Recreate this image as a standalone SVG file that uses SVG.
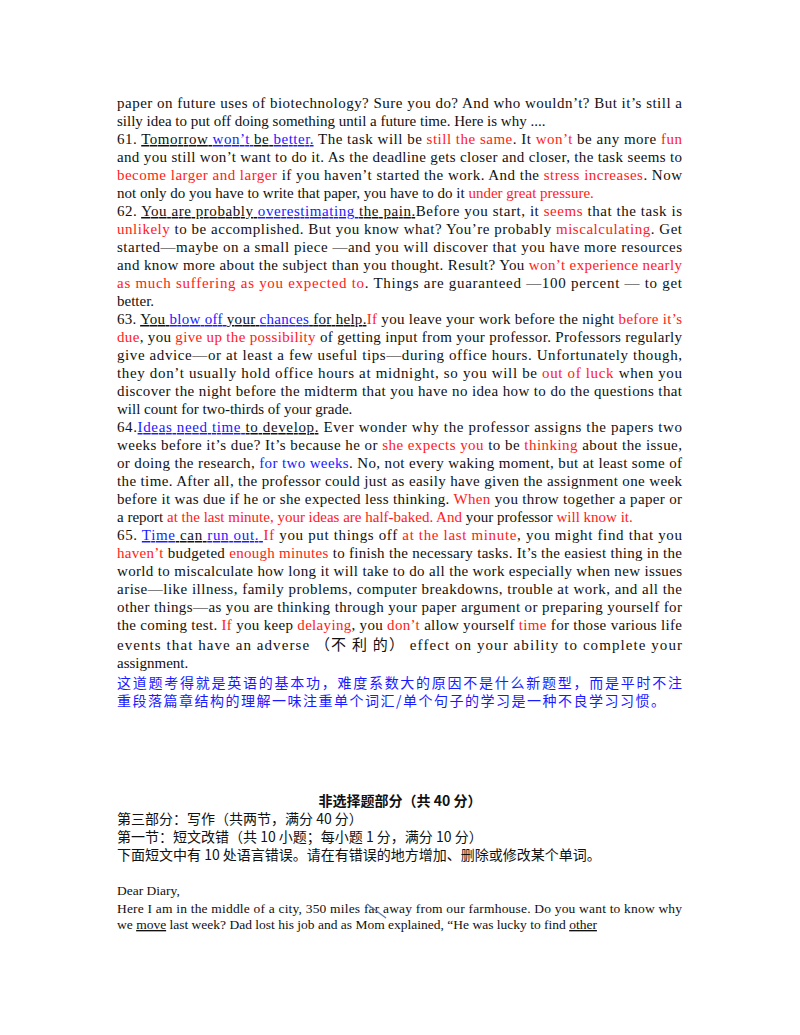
<svg xmlns="http://www.w3.org/2000/svg" width="800" height="1035" viewBox="0 0 800 1035">
<style>
text{font-family:"Liberation Serif","Noto Sans CJK SC",serif;font-size:15px;fill:#111}
.r{fill:#ff1a1a}.b{fill:#1a1aff}.u{text-decoration:underline}
.cn{font-family:"Noto Sans CJK SC",sans-serif;font-size:14px}
.cb{fill:#1a1aff;font-family:"Noto Sans CJK SC",sans-serif;font-size:14px}
</style>
<rect width="800" height="1035" fill="#fff"/>
<g id="body">
<text x="117" y="108" textLength="565" lengthAdjust="spacing">paper on future uses of biotechnology? Sure you do? And who wouldn’t? But it’s still a</text>
<text x="117" y="126">silly idea to put off doing something until a future time. Here is why ....</text>
<text x="117" y="144" textLength="565" lengthAdjust="spacing">61. <tspan class="u">Tomorrow </tspan><tspan class="b u">won’t </tspan><tspan class="u">be </tspan><tspan class="b u">better.</tspan> The task will be <tspan class="r">still the same</tspan>. It <tspan class="r">won’t</tspan> be any more <tspan class="r">fun</tspan></text>
<text x="117" y="162" textLength="565" lengthAdjust="spacing">and you still won’t want to do it. As the deadline gets closer and closer, the task seems to</text>
<text x="117" y="180" textLength="565" lengthAdjust="spacing"><tspan class="r">become larger and larger</tspan> if you haven’t started the work. And the <tspan class="r">stress increases</tspan>. Now</text>
<text x="117" y="198">not only do you have to write that paper, you have to do it <tspan class="r">under great pressure.</tspan></text>
<text x="117" y="216" textLength="565" lengthAdjust="spacing">62. <tspan class="u">You are probably </tspan><tspan class="b u">overestimating </tspan><tspan class="u">the pain.</tspan>Before you start, it <tspan class="r">seems</tspan> that the task is</text>
<text x="117" y="234" textLength="565" lengthAdjust="spacing"><tspan class="r">unlikely</tspan> to be accomplished. But you know what? You’re probably <tspan class="r">miscalculating</tspan>. Get</text>
<text x="117" y="252" textLength="565" lengthAdjust="spacing">started—maybe on a small piece —and you will discover that you have more resources</text>
<text x="117" y="270" textLength="565" lengthAdjust="spacing">and know more about the subject than you thought. Result? You <tspan class="r">won’t experience nearly</tspan></text>
<text x="117" y="288" textLength="565" lengthAdjust="spacing"><tspan class="r">as much suffering as you expected to</tspan>. Things are guaranteed —100 percent — to get</text>
<text x="117" y="306">better.</text>
<text x="117" y="324" textLength="565" lengthAdjust="spacing">63. <tspan class="u">You </tspan><tspan class="b u">blow off </tspan><tspan class="u">your </tspan><tspan class="b u">chances</tspan><tspan class="u"> for help.</tspan><tspan class="r">If</tspan> you leave your work before the night <tspan class="r">before it’s</tspan></text>
<text x="117" y="342" textLength="565" lengthAdjust="spacing"><tspan class="r">due</tspan>, you <tspan class="r">give up the possibility</tspan> of getting input from your professor. Professors regularly</text>
<text x="117" y="360" textLength="565" lengthAdjust="spacing">give advice—or at least a few useful tips—during office hours. Unfortunately though,</text>
<text x="117" y="378" textLength="565" lengthAdjust="spacing">they don’t usually hold office hours at midnight, so you will be <tspan class="r">out of luck</tspan> when you</text>
<text x="117" y="396" textLength="565" lengthAdjust="spacing">discover the night before the midterm that you have no idea how to do the questions that</text>
<text x="117" y="414">will count for two-thirds of your grade.</text>
<text x="117" y="432" textLength="565" lengthAdjust="spacing">64.<tspan class="b u">Ideas need time </tspan><tspan class="u">to develop.</tspan> Ever wonder why the professor assigns the papers two</text>
<text x="117" y="450" textLength="565" lengthAdjust="spacing">weeks before it’s due? It’s because he or <tspan class="r">she expects you</tspan> to be <tspan class="r">thinking</tspan> about the issue,</text>
<text x="117" y="468" textLength="565" lengthAdjust="spacing">or doing the research, <tspan class="b">for two weeks</tspan>. No, not every waking moment, but at least some of</text>
<text x="117" y="486" textLength="565" lengthAdjust="spacing">the time. After all, the professor could just as easily have given the assignment one week</text>
<text x="117" y="504" textLength="565" lengthAdjust="spacing">before it was due if he or she expected less thinking. <tspan class="r">When</tspan> you throw together a paper or</text>
<text x="117" y="522">a report <tspan class="r">at the last minute, your ideas are half-baked. And</tspan> your professor <tspan class="r">will know it.</tspan></text>
<text x="117" y="540" textLength="565" lengthAdjust="spacing">65. <tspan class="b u">Time</tspan><tspan class="u"> can </tspan><tspan class="b u">run out. </tspan><tspan class="r">If</tspan> you put things off <tspan class="r">at the last minute</tspan>, you might find that you</text>
<text x="117" y="558" textLength="565" lengthAdjust="spacing"><tspan class="r">haven’t</tspan> budgeted <tspan class="r">enough minutes</tspan> to finish the necessary tasks. It’s the easiest thing in the</text>
<text x="117" y="576" textLength="565" lengthAdjust="spacing">world to miscalculate how long it will take to do all the work especially when new issues</text>
<text x="117" y="594" textLength="565" lengthAdjust="spacing">arise—like illness, family problems, computer breakdowns, trouble at work, and all the</text>
<text x="117" y="612" textLength="565" lengthAdjust="spacing">other things—as you are thinking through your paper argument or preparing yourself for</text>
<text x="117" y="630" textLength="565" lengthAdjust="spacing">the coming test. <tspan class="r">If</tspan> you keep <tspan class="r">delaying</tspan>, you <tspan class="r">don’t</tspan> allow yourself <tspan class="r">time</tspan> for those various life</text>
<text x="117" y="650" textLength="565" lengthAdjust="spacing">events that have an adverse （不 利 的） effect on your ability to complete your</text>
<text x="117" y="668">assignment.</text>
<text x="117" y="688" class="cb" textLength="565" lengthAdjust="spacing">这道题考得就是英语的基本功，难度系数大的原因不是什么新题型，而是平时不注</text>
<text x="117" y="706" class="cb" textLength="548" lengthAdjust="spacing">重段落篇章结构的理解一味注重单个词汇/单个句子的学习是一种不良学习习惯。</text>
</g>
<g id="section2">
<text x="400" y="806" text-anchor="middle" style="font-family:'Noto Sans CJK SC',sans-serif;font-weight:bold;font-size:14px">非选择题部分（共 40 分）</text>
<text x="117" y="824" class="cn">第三部分：写作（共两节，满分 40 分）</text>
<text x="117" y="842" class="cn">第一节：短文改错（共 10 小题；每小题 1 分，满分 10 分）</text>
<text x="117" y="860" class="cn">下面短文中有 10 处语言错误。请在有错误的地方增加、删除或修改某个单词。</text>
<text x="117" y="895" style="font-size:13.5px">Dear Diary,</text>
<text x="117" y="913" style="font-size:13.5px" textLength="565" lengthAdjust="spacing">Here I am in the middle of a city, 350 miles far away from our farmhouse. Do you want to know why</text>
<text x="117" y="929" style="font-size:13.5px">we <tspan class="u">move</tspan> last week? Dad lost his job and as Mom explained, “He was lucky to find <tspan class="u">other </tspan></text>
<line x1="367" y1="904" x2="386" y2="918" stroke="#5a7fb0" stroke-width="1.2"/>
</g>
</svg>
